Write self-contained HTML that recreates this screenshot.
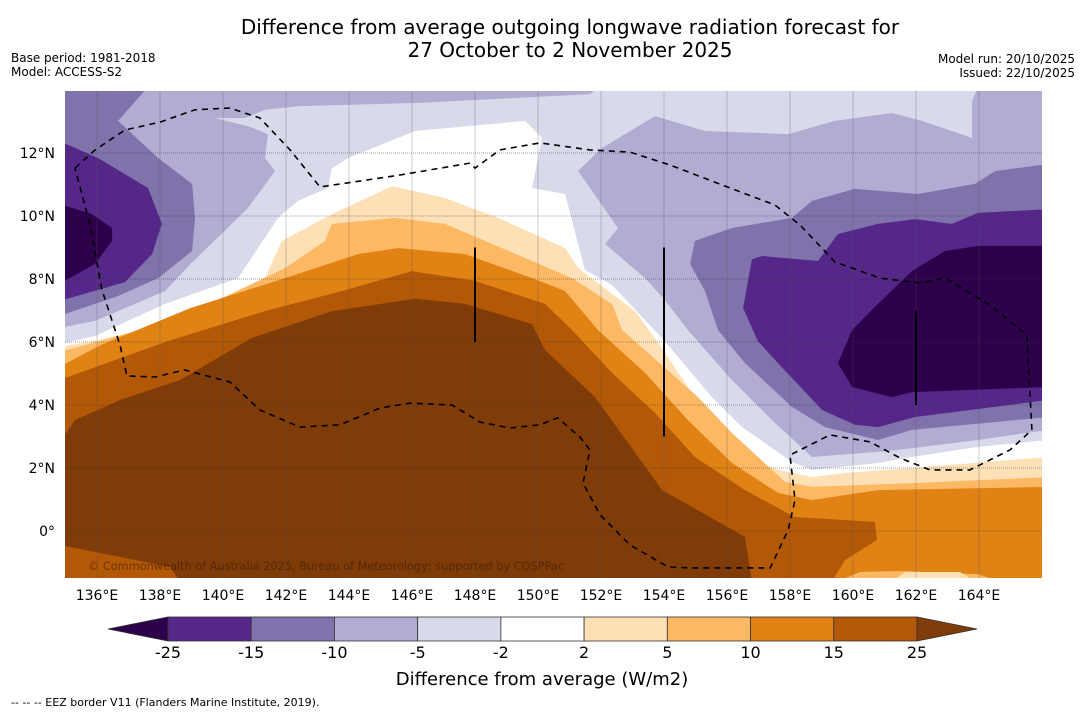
<!DOCTYPE html>
<html><head><meta charset="utf-8">
<style>
body{margin:0;background:#fff;}
svg{display:block;font-family:"DejaVu Sans","Liberation Sans",sans-serif;}
</style></head>
<body>
<svg id="chart" width="1085" height="713" viewBox="0 0 1085 713">
<text x="570" y="34" font-size="20" text-anchor="middle">Difference from average outgoing longwave radiation forecast for</text>
<text x="570" y="57" font-size="20" text-anchor="middle">27 October to 2 November 2025</text>
<text x="11" y="62" font-size="12">Base period: 1981-2018</text>
<text x="11" y="76" font-size="12">Model: ACCESS-S2</text>
<text x="1075" y="63" font-size="12" text-anchor="end">Model run: 20/10/2025</text>
<text x="1075" y="77" font-size="12" text-anchor="end">Issued: 22/10/2025</text>
<defs><clipPath id="mapclip"><rect x="65" y="91" width="977" height="487"/></clipPath></defs>
<g id="map" clip-path="url(#mapclip)"></g>
<g id="axes"></g>
<g id="cbar"></g>
<text x="542" y="685" font-size="18" text-anchor="middle">Difference from average (W/m2)</text>
<text x="11" y="706" font-size="11">--  --  -- EEZ border V11 (Flanders Marine Institute, 2019).</text>
</svg>
<script>
const lonTicks=[136,138,140,142,144,146,148,150,152,154,156,158,160,162,164];
const latTicks=[0,2,4,6,8,10,12];
const levels=[-25,-15,-10,-5,-2,2,5,10,15,25];
const levelColors=["#2d004b","#542788","#8073ac","#b2abd2","#d8daeb","#ffffff","#fee0b6","#fdb863","#e08214","#b35806","#7f3b08"];
const whiteRegion=[[134.98,5.97],[135.94,6.19],[138.16,7.21],[140.48,8.03],[141.75,9.94],[142.38,10.48],[143.33,10.89],[143.46,11.52],[143.97,11.84],[146.10,12.70],[149.59,13.02],[150.13,12.48],[149.81,10.89],[150.86,10.70],[151.49,8.29],[152.35,7.81],[154.03,6.03],[155.52,4.25],[156.48,3.30],[158.06,2.19],[158.70,1.94],[160.79,2.16],[161.87,2.35],[163.97,2.67],[166.2,2.89],[166.2,-1.6],[134.8,-1.6]];
const peachRegion=[[134.8,5.84],[136.03,6.06],[138.16,6.57],[141.33,8.03],[141.87,9.21],[143.46,10.06],[145.37,10.95],[147.05,10.57],[148.73,9.94],[150.86,8.98],[151.27,8.35],[153.08,6.98],[153.87,5.90],[155.52,3.43],[156.57,2.35],[157.62,1.94],[158.70,1.71],[159.75,1.84],[161.87,2.00],[166.2,2.35],[166.2,-1.6],[134.8,-1.6]];
const lightOrangeRegion=[[134.8,5.68],[138.48,6.67],[141.97,8.35],[143.24,9.21],[143.46,9.75],[145.46,9.94],[147.05,9.75],[149.81,8.57],[151.08,8.03],[152.35,7.21],[152.67,6.38],[155.08,4.25],[156.16,3.11],[157.84,1.56],[158.70,1.40],[161.87,1.52],[166.2,1.71],[166.2,-1.6],[134.8,-1.6]];
const orangeRegion=[[134.8,5.21],[136.11,5.90],[138.97,7.08],[141.97,8.03],[144.29,8.79],[145.56,8.98],[147.68,8.79],[149.81,8.03],[150.86,7.62],[151.90,6.38],[153.40,5.02],[154.76,3.52],[156.16,2.16],[157.62,1.21],[158.70,0.98],[160.79,1.30],[166.2,1.40],[166.2,-1.6],[134.8,-1.6]];
const brownRegion=[[134.8,4.79],[138.25,6.03],[141.33,6.98],[143.78,7.62],[146.00,8.25],[148.00,7.94],[150.22,7.21],[151.08,6.38],[152.35,5.02],[153.71,3.75],[154.98,2.35],[156.57,1.30],[158.16,0.44],[160.70,0.29],[160.76,-0.29],[159.75,-0.92],[159.33,-1.6],[134.8,-1.6]];
const darkBrownRegion=[[134.8,2.79],[135.30,3.52],[136.73,4.16],[138.63,4.79],[140.92,6.13],[143.46,6.98],[146.10,7.37],[147.68,7.21],[149.81,6.57],[150.22,5.75],[151.81,4.25],[153.94,1.30],[156.57,-0.19],[156.79,-1.6],[138.63,-1.6],[138.32,-1.14],[134.8,-0.44]];
const lightOrangeSE=[[159.52,-1.6],[160.22,-1.30],[161.49,-1.27],[163.97,-1.37],[164.67,-1.6]];
const peachSE=[[161.24,-1.6],[161.65,-1.30],[163.40,-1.30],[163.87,-1.6]];
const lavWest=[[134.8,14.1],[151.97,14.1],[151.65,13.87],[146.25,13.59],[142.44,13.49],[141.33,13.37],[140.70,13.11],[139.75,13.11],[140.86,12.83],[141.43,12.60],[141.33,11.84],[141.65,11.43],[140.79,10.25],[138.97,8.48],[138.16,7.62],[135.94,6.67],[134.8,6.44]];
const midPurpleWest=[[134.8,14.1],[137.62,14.1],[136.67,13.02],[137.94,11.84],[139.02,11.02],[139.11,9.94],[139.02,8.89],[137.94,8.03],[136.67,7.46],[134.8,6.83]];
const purpleWest=[[134.8,12.38],[136.03,11.84],[137.62,10.89],[138.06,9.75],[137.75,8.79],[136.89,7.90],[134.8,7.30]];
const darkPurpleWest=[[134.8,10.38],[135.84,10.06],[136.48,9.62],[136.48,9.21],[135.94,8.48],[134.8,7.84]];
const lavEast=[[151.27,11.43],[152.03,12.16],[153.71,13.17],[155.30,12.70],[157.94,12.60],[159.43,13.02],[161.24,13.27],[162.19,13.02],[163.78,12.48],[163.78,13.65],[163.97,14.1],[166.2,14.1],[166.2,3.21],[163.97,2.89],[161.87,2.63],[160.79,2.51],[158.70,2.35],[157.43,3.52],[156.16,4.79],[154.76,6.38],[154.03,7.33],[153.40,8.03],[152.13,9.11],[152.54,9.62]];
const midPurpleEast=[[166.2,11.65],[164.51,11.43],[163.87,11.02],[162.06,10.70],[160.06,10.86],[158.70,10.48],[158.06,9.94],[156.16,9.62],[154.98,9.21],[154.83,8.48],[155.30,7.62],[155.71,6.38],[156.57,5.33],[158.06,3.94],[159.11,3.30],[160.79,2.89],[161.87,3.21],[166.2,3.62]];
const purpleEast=[[166.2,10.22],[163.97,10.10],[163.14,9.75],[161.97,9.90],[160.79,9.75],[159.52,9.43],[158.89,8.57],[157.11,8.73],[156.79,8.63],[156.51,7.08],[156.98,6.03],[157.62,5.33],[159.02,3.84],[160.06,3.37],[160.79,3.30],[161.97,3.62],[166.2,4.16]];
const darkPurpleEast=[[166.2,9.05],[163.97,9.05],[162.92,8.89],[161.87,8.25],[160.79,7.21],[159.97,6.38],[159.52,5.33],[159.97,4.57],[161.24,4.25],[161.87,4.41],[166.2,4.57]];
const eezBorder=[[135.30,11.52],[135.94,12.10],[136.89,12.73],[138.00,12.98],[139.11,13.37],[140.22,13.43],[141.17,13.11],[142.13,12.10],[143.08,10.92],[145.62,11.30],[147.84,11.68],[148.00,11.52],[148.79,12.10],[150.06,12.32],[151.65,12.10],[152.92,12.03],[154.19,11.62],[156.10,10.89],[157.52,10.35],[158.32,9.71],[159.43,8.54],[160.86,8.03],[162.13,7.87],[162.92,8.03],[164.35,7.17],[165.52,6.22],[165.68,3.21],[164.98,2.57],[163.71,1.94],[162.44,1.94],[161.49,2.32],[160.54,2.83],[159.27,3.05],[158.00,2.41],[158.16,0.98],[157.94,0.03],[157.37,-1.17],[154.83,-1.17],[154.13,-1.14],[152.92,-0.44],[151.97,0.51],[151.43,1.52],[151.65,2.57],[151.33,2.98],[150.63,3.59],[150.06,3.37],[149.11,3.27],[148.16,3.46],[147.27,4.00],[145.94,4.06],[144.98,3.90],[143.71,3.37],[142.44,3.30],[141.17,3.84],[140.22,4.73],[138.79,5.11],[137.84,4.89],[136.95,4.92],[136.73,5.90],[136.16,7.65],[135.78,9.71],[135.30,11.52]];
const markerLines=[[148,6,9],[154,3,9],[162,4,7]];

const NS="http://www.w3.org/2000/svg";
const X=lon=>97+(lon-136)*31.5;
const Y=lat=>531-lat*31.5;
function mk(tag,attrs,parent){const e=document.createElementNS(NS,tag);for(const k in attrs)e.setAttribute(k,attrs[k]);parent.appendChild(e);return e;}
const map=document.getElementById('map');
const bg=mk('rect',{x:65,y:91,width:977,height:487,fill:levelColors[4]},map);


function poly(pts,color,name){
  const p=mk('polygon',{points:pts.map(q=>X(q[0]).toFixed(1)+','+Y(q[1]).toFixed(1)).join(' '),fill:color},map);
  
  
}
poly(whiteRegion,levelColors[5],'band-neutral');
poly(peachRegion,levelColors[6],'band-2-to-5');
poly(lightOrangeRegion,levelColors[7],'band-5-to-10');
poly(orangeRegion,levelColors[8],'band-10-to-15');
poly(brownRegion,levelColors[9],'band-15-to-25');
poly(darkBrownRegion,levelColors[10],'band-above-25');
poly(lightOrangeSE,levelColors[7],'band-5-to-10-southeast');
poly(peachSE,levelColors[6],'band-2-to-5-southeast');
poly(lavWest,levelColors[3],'band-minus5-to-minus10-west');
poly(midPurpleWest,levelColors[2],'band-minus10-to-minus15-west');
poly(purpleWest,levelColors[1],'band-minus15-to-minus25-west');
poly(darkPurpleWest,levelColors[0],'band-below-minus25-west');
poly(lavEast,levelColors[3],'band-minus5-to-minus10-east');
poly(midPurpleEast,levelColors[2],'band-minus10-to-minus15-east');
poly(purpleEast,levelColors[1],'band-minus15-to-minus25-east');
poly(darkPurpleEast,levelColors[0],'band-below-minus25-east');
lonTicks.forEach(l=>{
  const g=mk('line',{x1:X(l),x2:X(l),y1:91,y2:578,stroke:'#555','stroke-opacity':0.3,'stroke-width':1},map);
  
  
});
latTicks.forEach(l=>{
  const g=mk('line',{x1:65,x2:1042,y1:Y(l),y2:Y(l),stroke:'#333','stroke-opacity':0.45,'stroke-width':1,'stroke-dasharray':'1,1'},map);
  
  
});
const eez=mk('polyline',{points:eezBorder.map(q=>X(q[0]).toFixed(1)+','+Y(q[1]).toFixed(1)).join(' '),fill:'none',stroke:'#000','stroke-width':1.6,'stroke-dasharray':'6,5'},map);


markerLines.forEach(m=>{
  const l=mk('line',{x1:X(m[0]),x2:X(m[0]),y1:Y(m[2]),y2:Y(m[1]),stroke:'#000','stroke-width':2},map);
  
  
});
const cp=mk('text',{x:88,y:570,'font-size':11.3,fill:'#3a1a00','fill-opacity':0.6},map);
cp.textContent='© Commonwealth of Australia 2025, Bureau of Meteorology; supported by COSPPac';


const axes=document.getElementById('axes');
lonTicks.forEach(l=>{
  const t=mk('text',{x:X(l),y:600,'font-size':14,'text-anchor':'middle'},axes);
  t.textContent=l+'°E';
  
  
});
latTicks.forEach(l=>{
  const t=mk('text',{x:55,y:Y(l)+5,'font-size':14,'text-anchor':'end'},axes);
  t.textContent=l===0?'0°':l+'°N';
  
  
});
const cb=document.getElementById('cbar');
const cbX0=168,cbX1=917,cbY=617,cbH=24;
const cbStep=(cbX1-cbX0)/(levels.length-1);
const CX=i=>cbX0+i*cbStep;
const triL=mk('polygon',{points:`${CX(0)},${cbY} ${CX(0)},${cbY+cbH} 108,${cbY+cbH/2}`,fill:levelColors[0],stroke:'#333','stroke-width':0.8},cb);


for(let i=0;i<levels.length-1;i++){
  const r=mk('rect',{x:CX(i),y:cbY,width:cbStep,height:cbH,fill:levelColors[i+1],stroke:'#333','stroke-width':0.8},cb);
  
  
}
const triR=mk('polygon',{points:`${CX(levels.length-1)},${cbY} ${CX(levels.length-1)},${cbY+cbH} 977,${cbY+cbH/2}`,fill:levelColors[10],stroke:'#333','stroke-width':0.8},cb);


levels.forEach((v,i)=>{
  const t=mk('text',{x:CX(i),y:658,'font-size':16,'text-anchor':'middle'},cb);
  t.textContent=v;
  
  
});
</script>
</body></html>
